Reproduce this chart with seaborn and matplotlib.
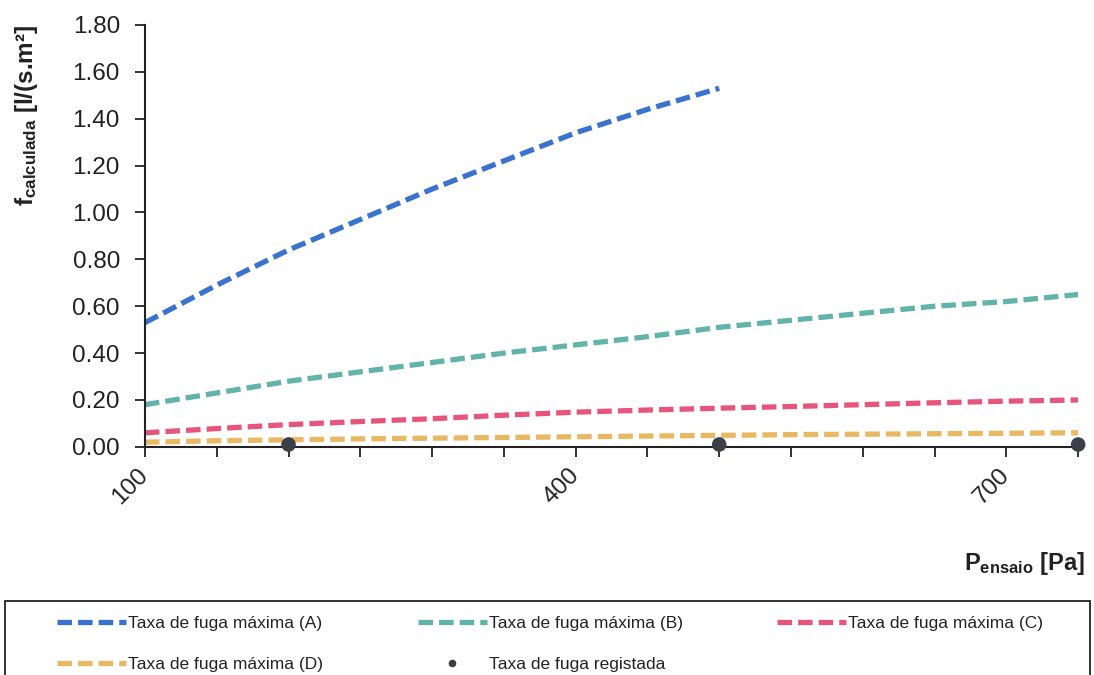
import matplotlib
matplotlib.use("Agg")
import matplotlib.pyplot as plt
import seaborn as sns
import pandas as pd
import numpy as np
from matplotlib.ticker import FormatStrFormatter
from matplotlib.patches import Rectangle

# ---- data ----
pressure = [100, 150, 200, 250, 300, 350, 400, 450, 500, 550, 600, 650, 700, 750]
rate_A = [0.53, 0.69, 0.84, 0.97, 1.10, 1.22, 1.34, 1.44, 1.53]          # ends at 500 Pa
rate_B = [0.18, 0.23, 0.28, 0.32, 0.36, 0.40, 0.435, 0.47, 0.51, 0.54, 0.57, 0.60, 0.62, 0.65]
rate_C = [0.06, 0.078, 0.095, 0.108, 0.12, 0.135, 0.148, 0.157, 0.165, 0.172, 0.18, 0.188, 0.195, 0.20]
rate_D = [0.02, 0.026, 0.03, 0.034, 0.037, 0.040, 0.043, 0.046, 0.049, 0.052, 0.054, 0.056, 0.058, 0.06]
reg_pressure = [200, 500, 750]
reg_rate = [0.01, 0.01, 0.01]

labels = ["Taxa de fuga máxima (A)", "Taxa de fuga máxima (B)",
          "Taxa de fuga máxima (C)", "Taxa de fuga máxima (D)"]
reg_label = "Taxa de fuga registada"
colors = ["#3a72d0", "#62b3a9", "#e8557c", "#e9b862"]
point_color = "#3b3f48"

xticks_labeled = [100, 400, 700]

sns.set_theme(style="white")
plt.rcParams['font.family'] = ['Liberation Sans', 'DejaVu Sans']
plt.rcParams['mathtext.fontset'] = 'custom'
plt.rcParams['mathtext.rm'] = 'Liberation Sans'
plt.rcParams['mathtext.bf'] = 'Liberation Sans:bold'
plt.rcParams['mathtext.it'] = 'Liberation Sans:italic'

fig = plt.figure(figsize=(10.94, 6.75), dpi=100)
ax = fig.add_axes([0.1325, 0.338, 0.853, 0.625])

series = [rate_A, rate_B, rate_C, rate_D]
handles = []
for vals, lab, col in zip(series, labels, colors):
    df = pd.DataFrame({"P": pressure[:len(vals)], "f": vals})
    sns.lineplot(data=df, x="P", y="f", ax=ax, color=col, lw=3.8,
                 label=lab, legend=False)
    line = ax.lines[-1]
    line.set_dashes((2.75, 1.15))
    line.set_dash_capstyle("butt")
    handles.append(line)

dfp = pd.DataFrame({"P": reg_pressure, "f": reg_rate})
sns.scatterplot(data=dfp, x="P", y="f", ax=ax, color=point_color, s=110,
                edgecolor="none", legend=False, zorder=5, clip_on=False)
pt_handle = plt.Line2D([], [], ls="none", marker="o", markersize=4.5,
                       color=point_color)

ax.set_xlim(100, 750)
ax.set_ylim(0, 1.80)
ax.set_yticks(np.arange(0, 1.81, 0.2))
ax.yaxis.set_major_formatter(FormatStrFormatter("%.2f"))
xt = list(range(100, 751, 50))
ax.set_xticks(xt)
ax.set_xticklabels([str(v) if v in xticks_labeled else "" for v in xt],
                   rotation=45, ha="right", va="center", rotation_mode="anchor")
ax.tick_params(axis="both", which="major", direction="out", length=7,
               width=1.3, color="#222222", labelsize=17.5, labelcolor="#222222",
               bottom=True, left=True)
ax.tick_params(axis="x", pad=11)
ax.tick_params(axis="y", pad=11)
for s in ["top", "right"]:
    ax.spines[s].set_visible(False)
for s in ["left", "bottom"]:
    ax.spines[s].set_color("#222222")
    ax.spines[s].set_linewidth(1.5)

ax.set_xlabel("")
ax.set_ylabel(r"$\mathbf{f}_{\mathbf{calculada}}$ [l/(s.m²]", fontsize=17.5,
              fontweight="bold", color="#222222", loc="top")
ax.yaxis.set_label_coords(-0.113, 1.0)

fig.text(1085 / 1094, 1 - 570 / 675, r"$\mathbf{P}_{\mathbf{ensaio}}$ [Pa]",
         ha="right", va="baseline", fontsize=17, fontweight="bold",
         color="#222222")

# legend frame (bottom edge runs off the figure, as in the reference)
fig.patches.append(Rectangle((5 / 1094, -0.05), 1085 / 1094, 0.05 + (1 - 601 / 675),
                             transform=fig.transFigure, fill=False,
                             edgecolor="#222222", linewidth=1.3))

order_h = [handles[0], handles[3], handles[1], pt_handle, handles[2]]
order_l = [labels[0], labels[3], labels[1], reg_label, labels[2]]
leg = fig.legend(order_h, order_l, loc="upper left",
                 bbox_to_anchor=(57 / 1094, 1 - 616 / 675),
                 ncol=3, fontsize=12.5, frameon=False,
                 handlelength=3.97, handletextpad=0.12, borderpad=0,
                 borderaxespad=0, labelspacing=1.5, columnspacing=5.45)
for t in leg.get_texts():
    t.set_color("#222222")

fig.savefig("out.png", dpi=100, facecolor="white")
